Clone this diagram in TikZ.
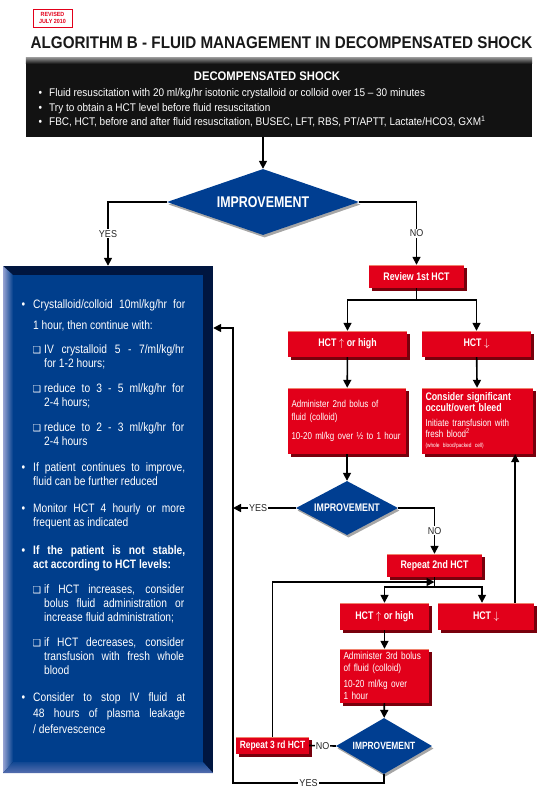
\documentclass[tikz,border=0pt]{standalone}
\usepackage{fontspec}
\setmainfont{Liberation Sans}[FakeStretch=0.9]
\newfontfamily\boxfont{Liberation Sans}[FakeStretch=0.8]
\newfontfamily\advfont{Liberation Sans}[FakeStretch=0.84]
\newfontfamily\dingfont{DejaVu Sans}
\usetikzlibrary{shapes.geometric,arrows.meta,shadows,calc}

\definecolor{hctred}{RGB}{226,0,26}
\definecolor{hctshade}{RGB}{120,0,12}
\definecolor{hctlight}{RGB}{240,130,110}
\definecolor{impblue}{RGB}{0,62,145}
\definecolor{advblue}{RGB}{0,62,140}
\definecolor{advdark}{RGB}{0,22,64}
\definecolor{advlight}{RGB}{150,162,210}
\definecolor{advbottom}{RGB}{85,110,175}

\newcommand{\sqbox}{{\dingfont\fontsize{9.5}{9.5}\selectfont ❑}}

\begin{document}
\begin{tikzpicture}[x=1pt,y=-1pt,
    redbox/.style={fill=hctred, text=white, inner sep=0pt,
      font=\boxfont\bfseries\fontsize{11}{13}\selectfont,
      drop shadow={shadow xshift=2.5pt,shadow yshift=-2.5pt,fill=hctshade,opacity=1},
      path picture={\draw[hctlight,line width=2pt] (path picture bounding box.north west)
        -- (path picture bounding box.north east);}},
    notebox/.style={redbox, inner xsep=3.5pt, align=left,
      font=\boxfont\fontsize{10.3}{12.5}\selectfont},
    impdia/.style={diamond, fill=impblue, text=white, inner sep=0pt, aspect=2.9,
      font=\boxfont\bfseries\fontsize{11}{12}\selectfont,
      drop shadow={shadow xshift=1.5pt,shadow yshift=-2.5pt,fill=black,opacity=.35}},
    advtext/.style={anchor=base west, text=white, align=justify, inner sep=0pt,
      font=\advfont\fontsize{12.2}{14}\selectfont,
      execute at begin node={\hyphenpenalty=10000\exhyphenpenalty=10000}},
    shocktext/.style={anchor=base west, text=white, inner sep=0pt,
      font=\fontsize{11.1}{12}\selectfont},
    lbl/.style={fill=white, text=black!85, inner sep=1pt, font=\fontsize{10}{10}\selectfont},
    line/.style={line width=1.6pt},
    flow/.style={line, -{Triangle[length=8pt,width=8pt]}}]
  \useasboundingbox (0,0) rectangle (550,793);

  % heading
  \node[draw=hctred, line width=0.8pt, text=hctred, align=center, inner sep=0pt,
    font=\bfseries\fontsize{6}{6.5}\selectfont, minimum width=39pt, minimum height=18pt]
    (revised) at (52.5,18) {REVISED\\JULY 2010};
  \node[font=\bfseries\fontsize{16.9}{20}\selectfont, text=black!90] (title) at (281.5,43)
    {ALGORITHM B - FLUID MANAGEMENT IN DECOMPENSATED SHOCK};

  % decompensated shock
  \node[fill=black!93, minimum width=506pt, minimum height=79pt, inner sep=0pt] (shock) at (279,97.5) {};
  \shade[top color=black!45, bottom color=black!93] (shock.north west) rectangle ($(shock.north east)+(0,6)$);
  \node[text=white, font=\bfseries\fontsize{12.5}{15}\selectfont] (shocktitle) at (267,76) {DECOMPENSATED SHOCK};
  \node[shocktext] (shock1) at (49,96) {\llap{\textbullet\hspace{7pt}}Fluid resuscitation with 20 ml/kg/hr isotonic crystalloid or colloid over 15 \textendash\ 30 minutes};
  \node[shocktext] (shock2) at (49,111) {\llap{\textbullet\hspace{7pt}}Try to obtain a HCT level before fluid resuscitation};
  \node[shocktext] (shock3) at (49,125.5) {\llap{\textbullet\hspace{7pt}}FBC, HCT, before and after fluid resuscitation, BUSEC, LFT, RBS, PT/APTT, Lactate/HCO3, GXM\textsuperscript{1}};

  \node[impdia, minimum width=192pt, minimum height=66pt, font=\boxfont\bfseries\fontsize{15.5}{16}\selectfont] (imp1) at (263,202) {IMPROVEMENT};

  % improvement branch
  \node[fill=advdark, minimum width=210pt, minimum height=507pt, inner sep=0pt] (advice) at (108,519.5) {};
  \fill[advblue] (13,275) rectangle (203,762);
  \shade[left color=advlight, right color=advblue] (3,266) -- (13,275) -- (13,762) -- (3,773) -- cycle;
  \shade[top color=advblue!80!advbottom, bottom color=advbottom] (3,773) -- (13,762) -- (203,762) -- (213,773) -- cycle;

  \node[advtext, text width=152pt, font=\advfont\fontsize{12.2}{21}\selectfont] (adv1) at (33,308)
    {\llap{\textbullet\hspace{8pt}}Crystalloid/colloid 10ml/kg/hr for\linebreak 1 hour, then continue with:};
  \node[advtext, text width=140pt] (sub1) at (44,353)
    {\llap{\sqbox\hspace{3pt}}IV crystalloid 5 - 7/ml/kg/hr\linebreak for 1-2 hours;};
  \node[advtext, text width=140pt] (sub2) at (44,392)
    {\llap{\sqbox\hspace{3pt}}reduce to 3 - 5 ml/kg/hr for\linebreak 2-4 hours;};
  \node[advtext, text width=140pt] (sub3) at (44,431)
    {\llap{\sqbox\hspace{3pt}}reduce to 2 - 3 ml/kg/hr for\linebreak 2-4 hours};
  \node[advtext, text width=152pt] (adv2) at (33,471)
    {\llap{\textbullet\hspace{8pt}}If patient continues to improve,\linebreak fluid can be further reduced};
  \node[advtext, text width=152pt] (adv3) at (33,512)
    {\llap{\textbullet\hspace{8pt}}Monitor HCT 4 hourly or more\linebreak frequent as indicated};
  \node[advtext, text width=152pt, font=\advfont\bfseries\fontsize{12.2}{14}\selectfont] (adv4) at (33,554)
    {\parfillskip=0pt\llap{\textbullet\hspace{8pt}}If the patient is not stable,\linebreak act according to HCT levels:};
  \node[advtext, text width=140pt] (sub4) at (44,593)
    {\parfillskip=0pt\llap{\sqbox\hspace{3pt}}if HCT increases, consider\linebreak bolus fluid administration or\linebreak increase fluid administration;};
  \node[advtext, text width=140pt] (sub5) at (44,646)
    {\llap{\sqbox\hspace{3pt}}if HCT decreases, consider\linebreak transfusion with fresh whole\linebreak blood};
  \node[advtext, text width=152pt, font=\advfont\fontsize{12.2}{16}\selectfont] (adv5) at (33,701)
    {\llap{\textbullet\hspace{8pt}}Consider to stop IV fluid at\linebreak 48 hours of plasma leakage\linebreak / defervescence};

  % no improvement branch
  \node[redbox, minimum width=95pt, minimum height=23pt] (review) at (416.5,276.5) {Review 1st HCT};
  \node[redbox, minimum width=119pt, minimum height=26pt] (hctup1) at (347.5,344) {HCT $\uparrow$ or high};
  \node[redbox, minimum width=109pt, minimum height=26pt] (hctdn1) at (476.5,344) {HCT $\downarrow$};
  \node[notebox, text width=111pt, minimum height=66pt, font=\boxfont\fontsize{10}{13}\selectfont] (admin2) at (347,421)
    {Administer 2nd bolus of\\fluid (colloid)\\[6pt]10-20 ml/kg over ½ to 1 hour};
  \node[notebox, text width=104pt, minimum height=66pt, font=\boxfont\fontsize{10}{10.5}\selectfont] (consider) at (477.5,421)
    {{\bfseries\fontsize{11}{10.5}\selectfont Consider significant\\occult/overt bleed}\\[5pt]Initiate transfusion with\\fresh blood\textsuperscript{2}\\{\fontsize{6}{8}\selectfont (whole blood/packed cell)}};
  \node[impdia, minimum width=102pt, minimum height=54pt] (imp2) at (347,508) {IMPROVEMENT};
  \node[redbox, minimum width=95pt, minimum height=23pt] (repeat2) at (434.5,565.5) {Repeat 2nd HCT};
  \node[redbox, minimum width=89pt, minimum height=27pt] (hctup2) at (384.5,616.5) {HCT $\uparrow$ or high};
  \node[redbox, minimum width=96pt, minimum height=27pt] (hctdn2) at (486,616.5) {HCT $\downarrow$};
  \node[notebox, text width=82pt, minimum height=54pt] (admin3) at (384.5,676)
    {Administer 3rd bolus\\of fluid (colloid)\\[3pt]10-20 ml/kg over\\1 hour};
  \node[impdia, minimum width=96pt, minimum height=56pt, font=\boxfont\bfseries\fontsize{10.5}{12}\selectfont] (imp3) at (384,746) {IMPROVEMENT};
  \node[redbox, minimum width=73pt, minimum height=17pt, font=\boxfont\bfseries\fontsize{10.5}{12}\selectfont] (repeat3) at (272.5,745.5) {Repeat 3 rd HCT};

  % connectors
  \coordinate (fork1) at (416.5,300);
  \coordinate (fork2) at (434.5,587);
  \coordinate (merge) at (434.5,582);
  \coordinate (railtop) at (233,328);
  \coordinate (railbot) at (233,783);

  \draw[flow] (imp1 |- shock.south) -- (imp1.north);
  \draw[flow] (imp1.west) -| node[lbl, pos=0.75] {YES} (advice.north);
  \draw[flow] (imp1.east) -| node[lbl, pos=0.75] {NO} (review.north);
  \draw[line] (review.south) -- (fork1);
  \draw[flow] (fork1) -| (hctup1.north);
  \draw[flow] (fork1) -| (hctdn1.north);
  \draw[flow] (hctup1) -- (admin2);
  \draw[flow] (hctdn1) -- (consider);
  \draw[flow] (admin2) -- (imp2);
  \draw[flow] (imp2.west) -- node[lbl, pos=0.6] {YES} (imp2.west -| railtop);
  \draw[flow] (imp2.east) -| node[lbl, pos=0.75] {NO} (repeat2.north);
  \draw[line] (repeat2.south) -- (fork2);
  \draw[flow] (fork2) -| ([xshift=-4pt]hctdn2.north);
  \draw[flow] (fork2) -| (hctup2.north);
  \draw[flow] ([xshift=-18pt]consider.south east |- hctdn2.north) -- ([xshift=-18pt]consider.south east);
  \draw[flow] (hctup2) -- (admin3);
  \draw[flow] (admin3) -- (imp3);
  \draw[line] (imp3.west) -- node[lbl] {NO} (repeat3.east);
  \draw[flow] (repeat3.north) |- (merge);
  \draw[flow] (imp3.south) |- node[lbl, pos=0.75] {YES} (railbot) -- (railtop) -- (railtop -| advice.east);
\end{tikzpicture}
\end{document}
